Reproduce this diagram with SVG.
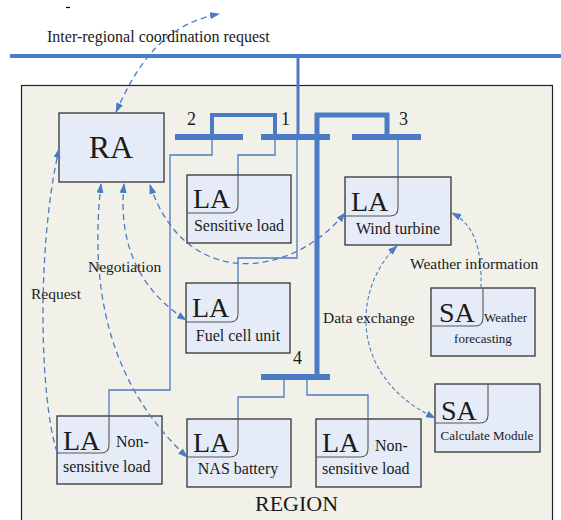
<svg xmlns="http://www.w3.org/2000/svg" width="561" height="520" viewBox="0 0 561 520">
  <style>
    .bus { fill: none; stroke: #4a7bc4; stroke-linecap: butt; }
    .feed { fill: none; stroke: #4a7bc4; stroke-width: 1.3; }
    .box { fill: #e6ecf7; stroke: #333; stroke-width: 1.3; }
    .corner { fill: none; stroke: #555; stroke-width: 1.1; }
    .msg { fill: none; stroke: #4a7bc4; stroke-width: 1.3; stroke-dasharray: 6 4; }
    .msg2 { fill: none; stroke: #4a7bc4; stroke-width: 1.1; stroke-dasharray: 4 2.5; }
    text { font-family: "Liberation Serif", "Times New Roman", serif; fill: #1a1a1a; }
    .big { font-size: 28px; }
    .lbl { font-size: 16px; }
    .sm { font-size: 13px; }
    .note { font-size: 15.5px; }
    .num { font-size: 18px; }
  </style>
  <defs>
    <marker id="ah" viewBox="0 0 10 7" refX="9" refY="3.5" markerWidth="10" markerHeight="7" markerUnits="userSpaceOnUse" orient="auto-start-reverse">
      <path d="M0,0 L10,3.5 L0,7 z" fill="#4a7bc4"/>
    </marker>
  </defs>

  <rect width="561" height="520" fill="#ffffff"/>
  <line x1="66" y1="7.5" x2="70" y2="7.5" stroke="#000" stroke-width="1.2"/>

  <!-- region frame -->
  <rect x="21.5" y="85.5" width="531" height="440" fill="#f1f1ea" stroke="#222" stroke-width="1.2"/>
  <text x="255" y="511" style="font-size:22px">REGION</text>

  <!-- power network: main line, buses and feeders -->
  <g id="network">
    <path class="bus" stroke-width="4" d="M10,56 H561"/>
    <path class="bus" stroke-width="3" d="M298,56 V137"/>
    <path class="bus" stroke-width="6" d="M175,137 H243 M261,137 H330 M352,137 H421 M261,377 H330"/>
    <path class="bus" stroke-width="4" d="M212,137 V115 H275 V137"/>
    <path class="bus" stroke-width="5" d="M317,377 V115 H387 V137"/>
    <path class="feed" d="M212,140 V155 H170 V390 H109 V416"/>
    <path class="feed" d="M275,140 V155 H238 V175"/>
    <path class="feed" d="M297,140 V258 H238 V283"/>
    <path class="feed" d="M398,140 V177"/>
    <path class="feed" d="M284,380 V397 H238 V419"/>
    <path class="feed" d="M307,380 V395 H368 V419"/>
    <text class="num" x="187" y="125">2</text>
    <text class="num" x="281" y="125">1</text>
    <text class="num" x="399" y="125">3</text>
    <text class="num" x="293" y="364">4</text>
  </g>

  <!-- agents -->
  <g id="ra">
    <rect class="box" x="59" y="113" width="105" height="69"/>
    <text x="111" y="158" text-anchor="middle" style="font-size:32px">RA</text>
  </g>

  <g id="la-sensitive">
    <rect class="box" x="187" y="175" width="104" height="68"/>
    <path class="corner" d="M238,175 V205 Q238,213 230,213 H187"/>
    <text class="big" x="193" y="208">LA</text>
    <text class="lbl" x="239" y="231" text-anchor="middle">Sensitive load</text>
  </g>

  <g id="la-wind">
    <rect class="box" x="345" y="177" width="106" height="68"/>
    <path class="corner" d="M398,177 V208 Q398,216 390,216 H345"/>
    <text class="big" x="351" y="211">LA</text>
    <text class="lbl" x="398" y="234" text-anchor="middle">Wind turbine</text>
  </g>

  <g id="la-fuelcell">
    <rect class="box" x="186" y="283" width="104" height="70"/>
    <path class="corner" d="M238,283 V314 Q238,322 230,322 H186"/>
    <text class="big" x="192" y="317">LA</text>
    <text class="lbl" x="238" y="341" text-anchor="middle">Fuel cell unit</text>
  </g>

  <g id="sa-weather">
    <rect class="box" x="431" y="288" width="104" height="68"/>
    <path class="corner" d="M483,288 V318 Q483,326 475,326 H431"/>
    <text class="big" x="439" y="322">SA</text>
    <text class="sm" x="484" y="322">Weather</text>
    <text class="sm" x="483" y="343" text-anchor="middle">forecasting</text>
  </g>

  <g id="sa-calc">
    <rect class="box" x="435" y="384" width="105" height="68"/>
    <path class="corner" d="M488,384 V415 Q488,423 480,423 H435"/>
    <text class="big" x="441" y="420">SA</text>
    <text class="sm" x="487" y="440" text-anchor="middle">Calculate Module</text>
  </g>

  <g id="la-nas">
    <rect class="box" x="187" y="419" width="104" height="68"/>
    <path class="corner" d="M238,419 V449 Q238,457 230,457 H187"/>
    <text class="big" x="193" y="452">LA</text>
    <text class="lbl" x="238" y="474" text-anchor="middle">NAS battery</text>
  </g>

  <g id="la-nonsensitive-1">
    <rect class="box" x="57" y="416" width="105" height="68"/>
    <path class="corner" d="M109,416 V445 Q109,453 101,453 H57"/>
    <text class="big" x="63" y="450">LA</text>
    <text class="lbl" x="116" y="447">Non-</text>
    <text class="lbl" x="63" y="472">sensitive load</text>
  </g>

  <g id="la-nonsensitive-2">
    <rect class="box" x="316" y="419" width="105" height="68"/>
    <path class="corner" d="M368,419 V449 Q368,457 360,457 H316"/>
    <text class="big" x="322" y="452">LA</text>
    <text class="lbl" x="375" y="451">Non-</text>
    <text class="lbl" x="322" y="474">sensitive load</text>
  </g>

  <!-- information flows -->
  <g id="messages">
    <path class="msg" d="M116,112 C135,70 160,25 219,14" marker-start="url(#ah)" marker-end="url(#ah)"/>
    <path class="msg" d="M57,452 C40,400 36,250 59,149" marker-end="url(#ah)"/>
    <path class="msg" d="M101,184 C88,300 115,390 187,457" marker-start="url(#ah)" marker-end="url(#ah)"/>
    <path class="msg" d="M124,184 C118,245 140,290 186,320" marker-start="url(#ah)" marker-end="url(#ah)"/>
    <path class="msg" d="M150,185 C185,290 290,280 345,213" marker-start="url(#ah)" marker-end="url(#ah)"/>
    <path class="msg2" d="M397,246 C355,285 345,375 435,418" marker-start="url(#ah)" marker-end="url(#ah)"/>
    <path class="msg2" d="M481,288 C482,250 475,225 452,213" marker-end="url(#ah)"/>
    <text class="note" x="47" y="42" style="font-size:16px">Inter-regional coordination request</text>
    <text class="note" x="88" y="272">Negotiation</text>
    <text class="note" x="31" y="299">Request</text>
    <text class="note" x="323" y="323">Data exchange</text>
    <text class="note" x="410" y="269">Weather information</text>
  </g>
</svg>
